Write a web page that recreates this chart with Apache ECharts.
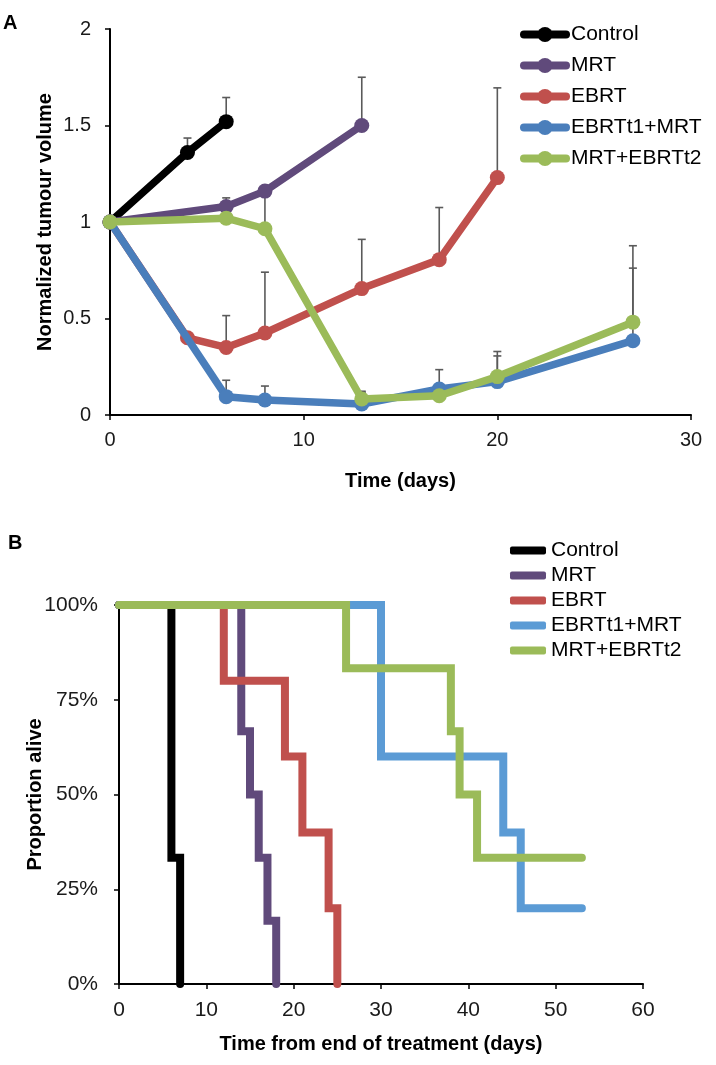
<!DOCTYPE html>
<html>
<head>
<meta charset="utf-8">
<script src="https://cdn.jsdelivr.net/npm/echarts@6/dist/echarts.min.js"></script>
<style>
html,body{margin:0;padding:0;background:#fff;}
#c{width:716px;height:1065px;}
</style>
</head>
<body>
<div id="c"></div>
<script>
// ---------- Panel A: tumour volume ----------
const groupNames = ['Control', 'MRT', 'EBRT', 'EBRTt1+MRT', 'MRT+EBRTt2'];
const topColors = ['#000000', '#604a7b', '#c0504d', '#4a7ebb', '#9bbb59'];
const bottomColors = ['#000000', '#604a7b', '#c0504d', '#5b9bd5', '#9bbb59'];

const controlDays = [0, 4, 6];
const controlVol = [1, 1.36, 1.52];
const controlErr = [0, 0.075, 0.125];

const mrtDays = [0, 6, 8, 13];
const mrtVol = [1, 1.08, 1.16, 1.50];
const mrtErr = [0, 0.045, 0, 0.25];

const ebrtDays = [0, 4, 6, 8, 13, 17, 20];
const ebrtVol = [1, 0.40, 0.35, 0.425, 0.655, 0.805, 1.23];
const ebrtErr = [0, 0, 0.165, 0.315, 0.255, 0.27, 0.465];

const ebrtt1Days = [0, 6, 8, 13, 17, 20, 27];
const ebrtt1Vol = [1, 0.095, 0.078, 0.057, 0.135, 0.173, 0.385];
const ebrtt1Err = [0, 0.085, 0.072, 0.06, 0.10, 0.133, 0.376];

const mrtEbrtt2Days = [0, 6, 8, 13, 17, 20, 27];
const mrtEbrtt2Vol = [1, 1.02, 0.965, 0.083, 0.10, 0.199, 0.481];
const mrtEbrtt2Err = [0, 0, 0.19, 0.04, 0, 0.13, 0.396];

const topYTicks = [0, 0.5, 1, 1.5, 2];
const topXTicks = [0, 10, 20, 30];

// ---------- Panel B: survival (Kaplan-Meier steps) ----------
const survControlT = [0, 6, 7];
const survControlP = [1, 0.333, 0];
const survMrtT = [0, 14, 15, 16, 17, 18];
const survMrtP = [1, 0.667, 0.5, 0.333, 0.167, 0];
const survEbrtT = [0, 12, 19, 21, 24, 25];
const survEbrtP = [1, 0.8, 0.6, 0.4, 0.2, 0];
const survEbrtt1T = [0, 30, 44, 46, 53];
const survEbrtt1P = [1, 0.6, 0.4, 0.2, 0.2];
const survMrtEbrtt2T = [0, 26, 38, 39, 41, 53];
const survMrtEbrtt2P = [1, 0.833, 0.667, 0.5, 0.333, 0.333];

const bottomYTicks = ['0%', '25%', '50%', '75%', '100%'];
const bottomXTicks = [0, 10, 20, 30, 40, 50, 60];

// ---------- build ----------
const zip = (a, b) => a.map((v, i) => [v, b[i]]);
const topSets = [
  [controlDays, controlVol, controlErr],
  [mrtDays, mrtVol, mrtErr],
  [ebrtDays, ebrtVol, ebrtErr],
  [ebrtt1Days, ebrtt1Vol, ebrtt1Err],
  [mrtEbrtt2Days, mrtEbrtt2Vol, mrtEbrtt2Err]
];
const bottomSets = [
  [survControlT, survControlP],
  [survMrtT, survMrtP],
  [survEbrtT, survEbrtP],
  [survEbrtt1T, survEbrtt1P],
  [survMrtEbrtt2T, survMrtEbrtt2P]
];

const FONT = '"Liberation Sans", Arial, sans-serif';
const errData = [];
topSets.forEach(s => s[0].forEach((d, i) => { if (s[2][i] > 0) errData.push([d, s[1][i], s[2][i]]); }));

const series = [];
series.push({
  type: 'custom', xAxisIndex: 0, yAxisIndex: 0, z: 1, silent: true,
  data: errData,
  renderItem: function (params, api) {
    const p0 = api.coord([api.value(0), api.value(1)]);
    const p1 = api.coord([api.value(0), api.value(1) + api.value(2)]);
    const st = { stroke: '#5a5a5a', lineWidth: 1.6 };
    return {
      type: 'group', children: [
        { type: 'line', shape: { x1: p0[0], y1: p0[1], x2: p1[0], y2: p1[1] }, style: st },
        { type: 'line', shape: { x1: p1[0] - 4, y1: p1[1], x2: p1[0] + 4, y2: p1[1] }, style: st }
      ]
    };
  }
});
topSets.forEach((s, k) => {
  series.push({
    name: groupNames[k], type: 'line', xAxisIndex: 0, yAxisIndex: 0, z: 2 + k,
    data: zip(s[0], s[1]),
    symbol: 'circle', symbolSize: 15, showSymbol: true,
    color: topColors[k],
    lineStyle: { width: 7.5, color: topColors[k], cap: 'round', join: 'round' },
    itemStyle: { color: topColors[k] },
    animation: false
  });
});
bottomSets.forEach((s, k) => {
  series.push({
    name: groupNames[k] + ' ', type: 'line', xAxisIndex: 1, yAxisIndex: 1, z: 2 + k,
    data: zip(s[0], s[1]),
    step: 'end', symbol: 'none', showSymbol: false,
    color: bottomColors[k],
    lineStyle: { width: 8, color: bottomColors[k], cap: 'round', join: 'miter' },
    animation: false
  });
});

const axisLineStyle = { show: true, lineStyle: { color: '#000', width: 2 } };
const tickStyle = { show: true, inside: false, length: 5, lineStyle: { color: '#000', width: 1.5 } };
const titleStyle = { fontFamily: FONT, fontWeight: 'bold', fontSize: 20, color: '#000' };

const option = {
  backgroundColor: '#fff',
  animation: false,
  grid: [
    { left: 110, top: 29, right: 25, bottom: 650 },
    { left: 119, top: 605, right: 73, bottom: 81 }
  ],
  xAxis: [
    {
      type: 'value', gridIndex: 0, min: topXTicks[0], max: topXTicks[topXTicks.length - 1], interval: 10,
      axisLine: axisLineStyle, axisTick: tickStyle, splitLine: { show: false },
      axisLabel: { fontFamily: FONT, fontSize: 20, color: '#1a1a1a', margin: 15 },
      name: 'Time (days)', nameLocation: 'middle', nameGap: 56, nameTextStyle: titleStyle
    },
    {
      type: 'value', gridIndex: 1, min: bottomXTicks[0], max: bottomXTicks[bottomXTicks.length - 1], interval: 10,
      axisLine: axisLineStyle, axisTick: tickStyle, splitLine: { show: false },
      axisLabel: { fontFamily: FONT, fontSize: 21, color: '#1a1a1a', margin: 16 },
      name: 'Time from end of treatment (days)', nameLocation: 'middle', nameGap: 50, nameTextStyle: titleStyle
    }
  ],
  yAxis: [
    {
      type: 'value', gridIndex: 0, min: topYTicks[0], max: topYTicks[topYTicks.length - 1], interval: 0.5,
      axisLine: axisLineStyle, axisTick: tickStyle, splitLine: { show: false },
      axisLabel: { fontFamily: FONT, fontSize: 20, color: '#1a1a1a', margin: 19 },
      name: 'Normalized tumour volume', nameLocation: 'middle', nameGap: 55, nameRotate: 90,
      nameMoveOverlap: false, nameTextStyle: titleStyle
    },
    {
      type: 'value', gridIndex: 1, min: 0, max: 1, interval: 0.25,
      axisLine: axisLineStyle, axisTick: tickStyle, splitLine: { show: false },
      axisLabel: {
        fontFamily: FONT, fontSize: 21, color: '#1a1a1a', margin: 21,
        formatter: v => bottomYTicks[Math.round(v * 4)]
      },
      name: 'Proportion alive', nameLocation: 'middle', nameGap: 74, nameRotate: 90,
      nameMoveOverlap: false, nameTextStyle: titleStyle
    }
  ],
  legend: [
    {
      orient: 'vertical', left: 515, top: 19, itemWidth: 42, itemHeight: 19, itemGap: 10,
      data: groupNames.slice(),
      lineStyle: { width: 8 },
      textStyle: { fontFamily: FONT, fontSize: 21, color: '#000', lineHeight: 21 },
      selectedMode: false
    },
    {
      orient: 'vertical', left: 505, top: 535, itemWidth: 36, itemHeight: 8, itemGap: 4,
      icon: 'roundRect',
      data: groupNames.map(n => n + ' '),
      formatter: n => n.trim(),
      textStyle: { fontFamily: FONT, fontSize: 21, color: '#000', lineHeight: 21 },
      selectedMode: false
    }
  ],
  graphic: [
    { type: 'text', left: 3, top: 13, style: { text: 'A', font: 'bold 20px ' + FONT, fill: '#000' } },
    { type: 'text', left: 8, top: 533, style: { text: 'B', font: 'bold 20px ' + FONT, fill: '#000' } }
  ],
  series: series
};

const chart = echarts.init(document.getElementById('c'), null, { renderer: 'canvas' });
chart.setOption(option);
</script>
</body>
</html>
